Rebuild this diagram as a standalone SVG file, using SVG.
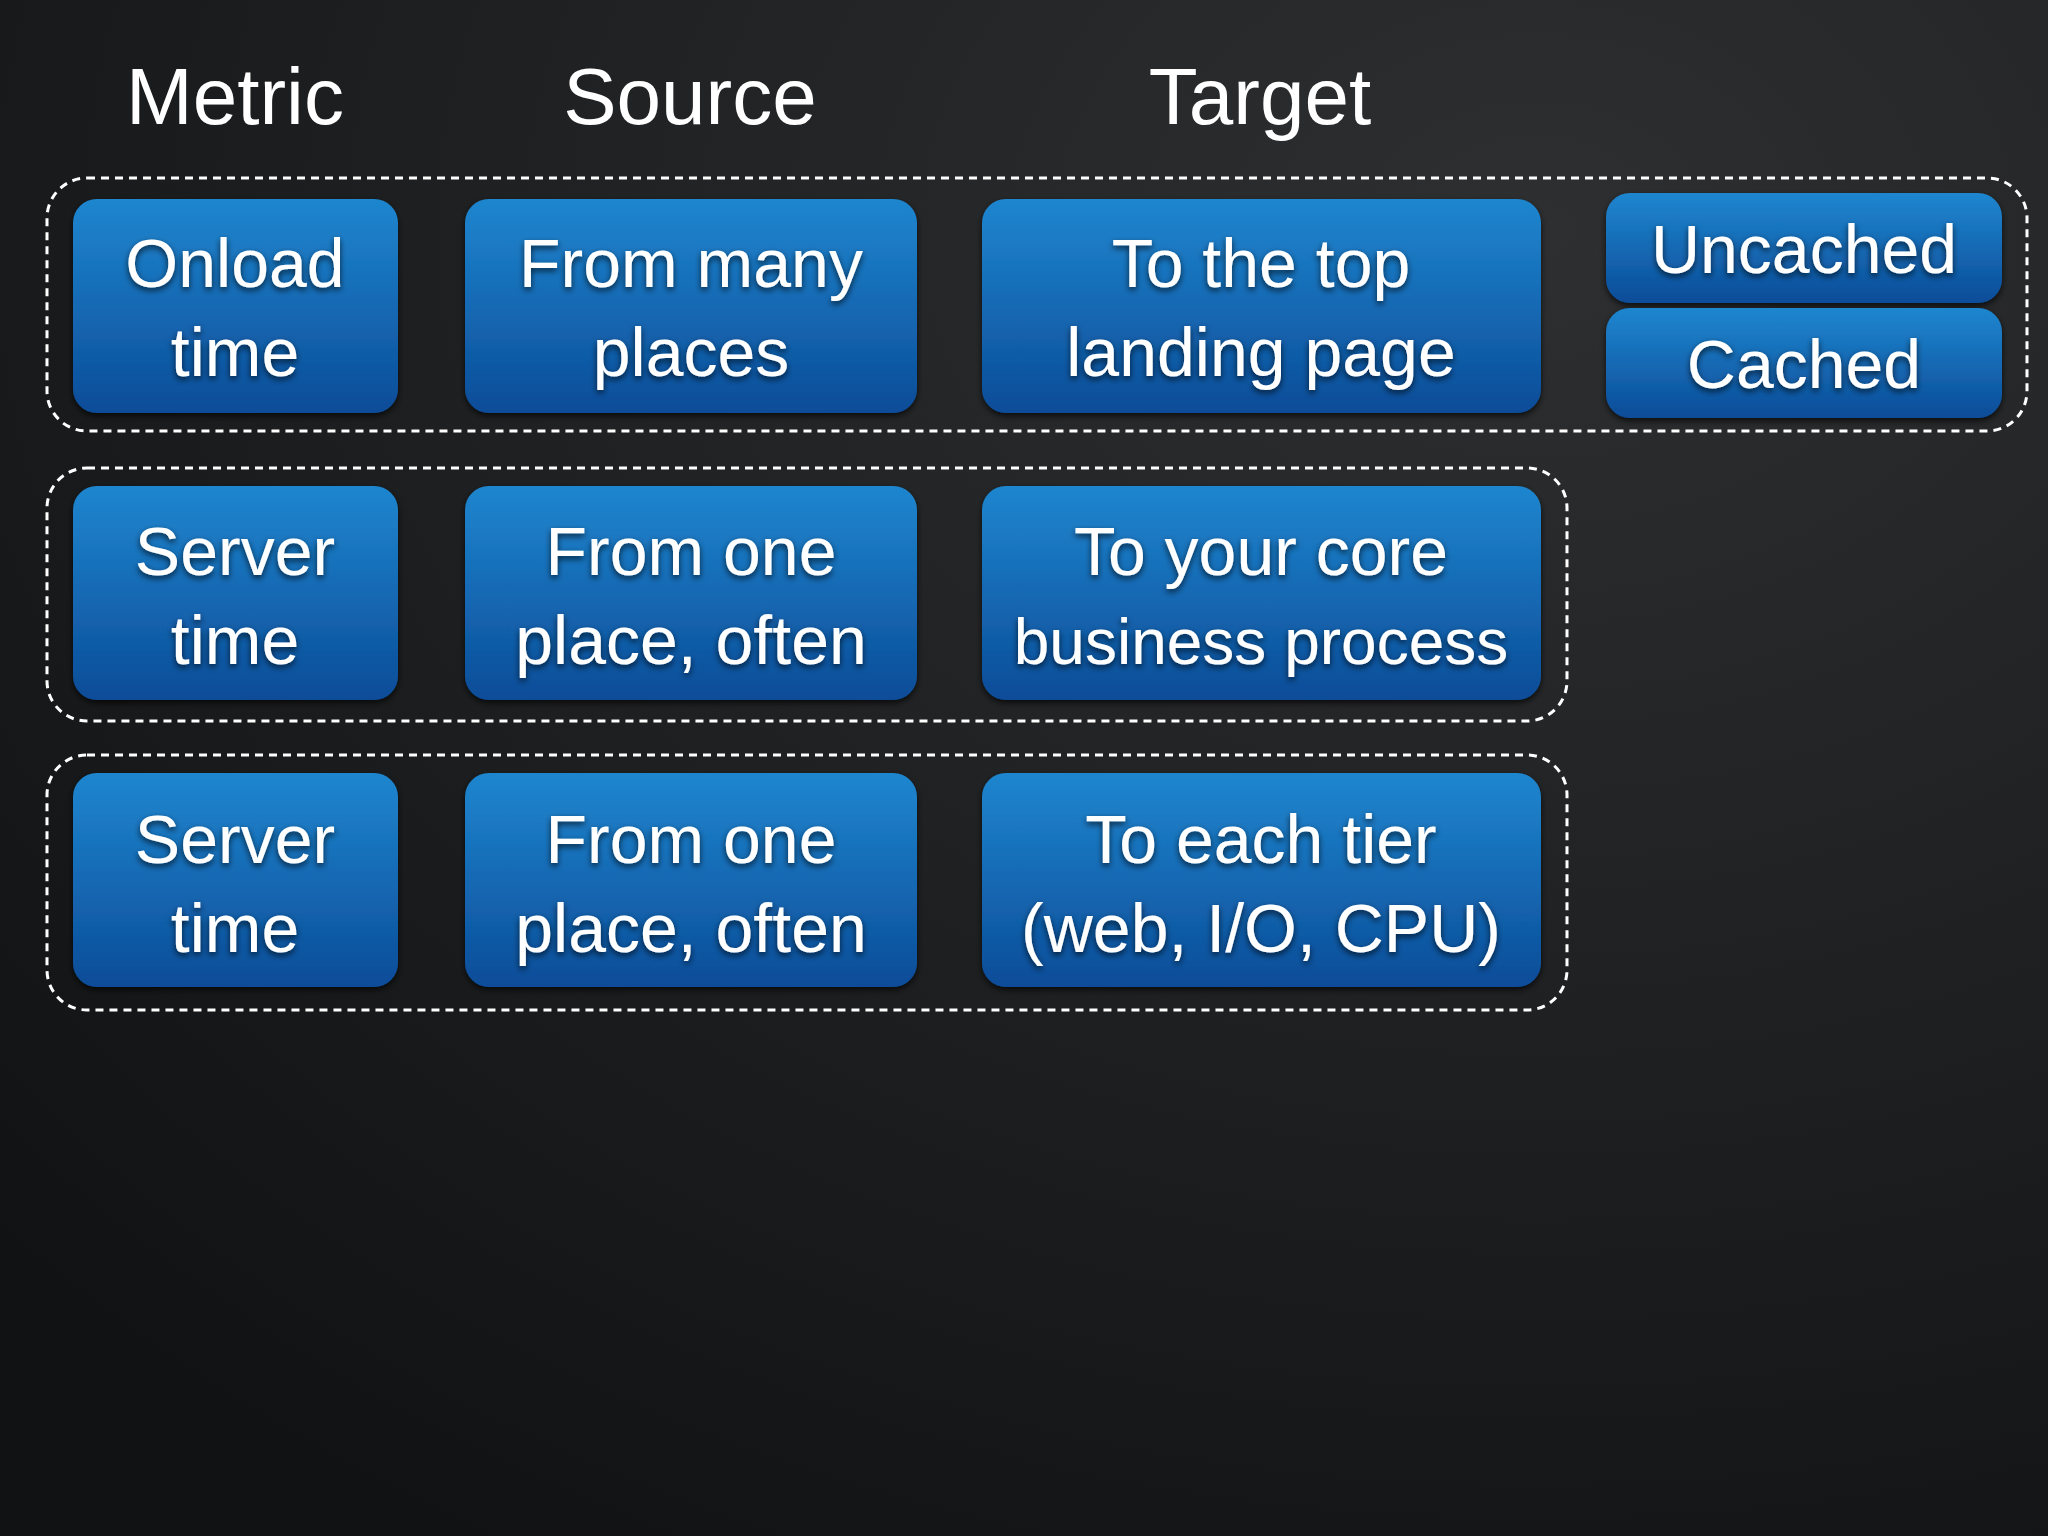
<svg xmlns="http://www.w3.org/2000/svg" width="2048" height="1536" viewBox="0 0 2048 1536">
<defs>
<radialGradient id="bg" cx="0.75" cy="0.15" r="1">
<stop offset="0" stop-color="#2e2f31"/><stop offset="1" stop-color="#111213"/>
</radialGradient>
<linearGradient id="blue" x1="0" y1="0" x2="0" y2="1">
<stop offset="0" stop-color="#1f86cf"/><stop offset="1" stop-color="#0b4c98"/>
</linearGradient>
<filter id="sh" x="-10%" y="-10%" width="120%" height="130%"><feDropShadow dx="0" dy="3" stdDeviation="3" flood-color="#000" flood-opacity="0.7"/></filter>
</defs>
<style>
.n{fill:url(#blue);filter:url(#sh)}
.g{fill:none;stroke:#fff;stroke-width:3;stroke-dasharray:8 6}
.t{font-family:"Liberation Sans",Arial,sans-serif;font-size:68px;fill:#fff;text-anchor:middle;filter:url(#sh)}
.h{font-family:"Liberation Sans",Arial,sans-serif;font-size:80px;fill:#fff;text-anchor:middle}
</style>
<rect width="2048" height="1536" fill="url(#bg)"/>
<text class="h" x="235" y="124">Metric</text>
<text class="h" x="690" y="124">Source</text>
<text class="h" x="1260" y="124">Target</text>
<g id="groups">
<rect class="g" x="47" y="178" width="1980" height="253" rx="40"/>
<rect class="g" x="47" y="468" width="1520" height="253" rx="40"/>
<rect class="g" x="47" y="755" width="1520" height="255" rx="40"/>
</g>
<g id="onload"><rect class="n" x="73" y="199" width="325" height="214" rx="24"/><text class="t" x="235" y="287">Onload</text><text class="t" x="235" y="376">time</text></g>
<g id="many"><rect class="n" x="465" y="199" width="452" height="214" rx="24"/><text class="t" x="691" y="287">From many</text><text class="t" x="691" y="376">places</text></g>
<g id="top"><rect class="n" x="982" y="199" width="559" height="214" rx="24"/><text class="t" x="1261" y="287">To the top</text><text class="t" x="1261" y="376">landing page</text></g>
<g id="uncached"><rect class="n" x="1606" y="193" width="396" height="110" rx="24"/><text class="t" x="1804" y="273">Uncached</text></g>
<g id="cached"><rect class="n" x="1606" y="308" width="396" height="110" rx="24"/><text class="t" x="1804" y="388">Cached</text></g>
<g id="server1"><rect class="n" x="73" y="486" width="325" height="214" rx="24"/><text class="t" x="235" y="575">Server</text><text class="t" x="235" y="664">time</text></g>
<g id="one1"><rect class="n" x="465" y="486" width="452" height="214" rx="24"/><text class="t" x="691" y="575">From one</text><text class="t" x="691" y="664">place, often</text></g>
<g id="core"><rect class="n" x="982" y="486" width="559" height="214" rx="24"/><text class="t" x="1261" y="575">To your core</text><text class="t" x="1261" y="664" style="font-size:64px">business process</text></g>
<g id="server2"><rect class="n" x="73" y="773" width="325" height="214" rx="24"/><text class="t" x="235" y="863">Server</text><text class="t" x="235" y="952">time</text></g>
<g id="one2"><rect class="n" x="465" y="773" width="452" height="214" rx="24"/><text class="t" x="691" y="863">From one</text><text class="t" x="691" y="952">place, often</text></g>
<g id="tier"><rect class="n" x="982" y="773" width="559" height="214" rx="24"/><text class="t" x="1261" y="863">To each tier</text><text class="t" x="1261" y="952">(web, I/O, CPU)</text></g>
<g id="connectors"/>
</svg>
